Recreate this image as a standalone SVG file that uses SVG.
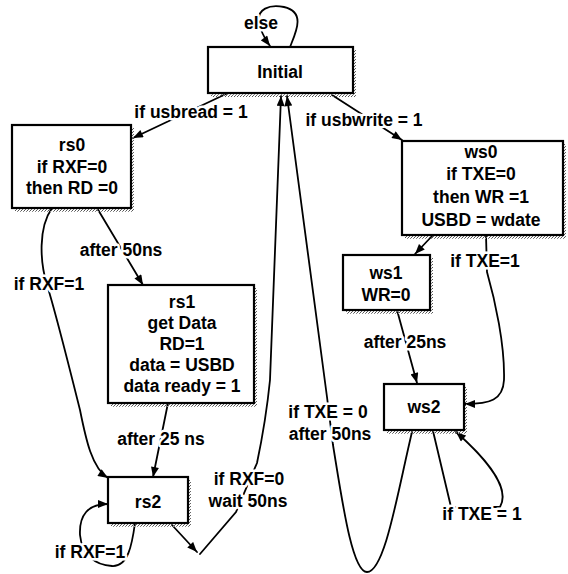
<svg xmlns="http://www.w3.org/2000/svg" width="568" height="574" viewBox="0 0 568 574">
  <defs>
    <!-- stippled drop shadow -->
    <pattern id="stip" width="3" height="3" patternUnits="userSpaceOnUse">
      <rect x="0" y="0" width="1" height="1" fill="#555"/>
      <rect x="2" y="1" width="1" height="1" fill="#888"/>
      <rect x="1" y="2" width="1" height="1" fill="#666"/>
    </pattern>
    <marker id="arr" viewBox="0 0 10 8" refX="10" refY="4" markerWidth="11" markerHeight="8" markerUnits="userSpaceOnUse" orient="auto">
      <path d="M0,0 L10,4 L0,8 z" fill="#000"/>
    </marker>
    <style>
      .box { fill: #fff; stroke: #000; stroke-width: 2.2; }
      .shadow { fill: url(#stip); }
      .t { font-family: "Liberation Sans", Arial, sans-serif; font-size: 17.5px; font-weight: bold; fill: #000; text-anchor: middle; }
      .lbl { stroke: #fff; stroke-width: 5; stroke-linejoin: round; paint-order: stroke; }
      .edge { fill: none; stroke: #000; stroke-width: 1.8; stroke-linecap: round; }
      .arrow { marker-end: url(#arr); }
    </style>
  </defs>

  <rect width="568" height="574" fill="#fff"/>

  <g id="connectors">
    <!-- else: self loop on Initial -->
    <path class="edge arrow" d="M290,47 C296,32 306,12 284,7 C268,4 258,10 259,20 C260,30 264,38 270,46"/>
    <!-- Initial -> rs0 -->
    <path class="edge arrow" d="M228,93 L133,138"/>
    <!-- Initial -> ws0 -->
    <path class="edge arrow" d="M332,95 L402,140"/>
    <!-- rs0 -> rs1 -->
    <path class="edge arrow" d="M97,208 L143,285"/>
    <!-- rs0 -> rs2 -->
    <path class="edge arrow" d="M52,208 C38,228 40,262 47,285 C55,310 70,370 80,410 C86,440 92,468 108,478"/>
    <!-- rs1 -> rs2 -->
    <path class="edge arrow" d="M168,403 L153,477"/>
    <!-- rs2 self loop -->
    <path class="edge arrow" d="M135,523 C132,545 128,567 112,566 C95,565 82,555 80,535 C79,515 88,504 108,504"/>
    <!-- rs2 -> Initial -->
    <path class="edge arrow" d="M172,525 L197,552"/>
    <path class="edge arrow" d="M200,554 L236,512 L257,463 Q266,420 270,380 L281,96"/>
    <!-- ws0 -> ws1 -->
    <path class="edge arrow" d="M433,235 L415,254"/>
    <!-- ws0 -> ws2 -->
    <path class="edge arrow" d="M486,235 L487,272 C495,300 505,345 504,380 C503,400 490,404 465,404"/>
    <!-- ws1 -> ws2 -->
    <path class="edge arrow" d="M397,310 L417,383"/>
    <!-- ws2 self loop -->
    <path class="edge arrow" d="M433,431 L451,507 L500,507 C510,490 490,462 456,432"/>
    <!-- ws2 -> Initial -->
    <path class="edge arrow" d="M412,432 C398,490 385,572 367,572 C352,572 342,500 333,445 L327,397 L287,96"/>

    <!-- transition labels -->
    <text class="t lbl" x="261" y="29">else</text>
    <text class="t lbl" x="191" y="118">if usbread = 1</text>
    <text class="t lbl" x="364" y="126">if usbwrite = 1</text>
    <text class="t lbl" x="121" y="256">after 50ns</text>
    <text class="t lbl" x="49" y="290">if RXF=1</text>
    <text class="t lbl" x="161" y="445">after 25 ns</text>
    <text class="t lbl" x="249" y="485">if RXF=0</text>
    <text class="t lbl" x="248" y="507">wait 50ns</text>
    <text class="t lbl" x="90" y="558">if RXF=1</text>
    <text class="t lbl" x="485" y="267">if TXE=1</text>
    <text class="t lbl" x="405" y="348">after 25ns</text>
    <text class="t lbl" x="328" y="418">if TXE = 0</text>
    <text class="t lbl" x="330" y="440">after 50ns</text>
    <text class="t lbl" x="482" y="520">if TXE = 1</text>
  </g>

  <g id="Initial">
    <rect class="shadow" x="211" y="50" width="145" height="47"/>
    <rect class="box" x="208" y="47" width="145" height="46"/>
    <text class="t" x="280" y="78">Initial</text>
  </g>

  <g id="rs0">
    <rect class="shadow" x="15" y="128" width="119" height="84"/>
    <rect class="box" x="12" y="125" width="119" height="83"/>
    <text class="t" x="72" y="151">rs0</text>
    <text class="t" x="72" y="173">if RXF=0</text>
    <text class="t" x="72" y="194">then RD =0</text>
  </g>

  <g id="ws0">
    <rect class="shadow" x="405" y="144" width="161" height="95"/>
    <rect class="box" x="402" y="141" width="161" height="94"/>
    <text class="t" x="481" y="158">ws0</text>
    <text class="t" x="481" y="180">if TXE=0</text>
    <text class="t" x="481" y="203">then WR =1</text>
    <text class="t" x="481" y="226">USBD = wdate</text>
  </g>

  <g id="rs1">
    <rect class="shadow" x="111" y="288" width="146" height="119"/>
    <rect class="box" x="108" y="285" width="146" height="118"/>
    <text class="t" x="182" y="308">rs1</text>
    <text class="t" x="182" y="329">get Data</text>
    <text class="t" x="182" y="350">RD=1</text>
    <text class="t" x="182" y="371">data = USBD</text>
    <text class="t" x="182" y="392">data ready = 1</text>
  </g>

  <g id="ws1">
    <rect class="shadow" x="346" y="258" width="87" height="56"/>
    <rect class="box" x="343" y="255" width="87" height="55"/>
    <text class="t" x="386" y="279">ws1</text>
    <text class="t" x="386" y="301">WR=0</text>
  </g>

  <g id="ws2">
    <rect class="shadow" x="387" y="387" width="80" height="47"/>
    <rect class="box" x="384" y="384" width="80" height="46"/>
    <text class="t" x="424" y="413">ws2</text>
  </g>

  <g id="rs2">
    <rect class="shadow" x="111" y="480" width="80" height="47"/>
    <rect class="box" x="108" y="477" width="80" height="46"/>
    <text class="t" x="148" y="508">rs2</text>
  </g>
</svg>
